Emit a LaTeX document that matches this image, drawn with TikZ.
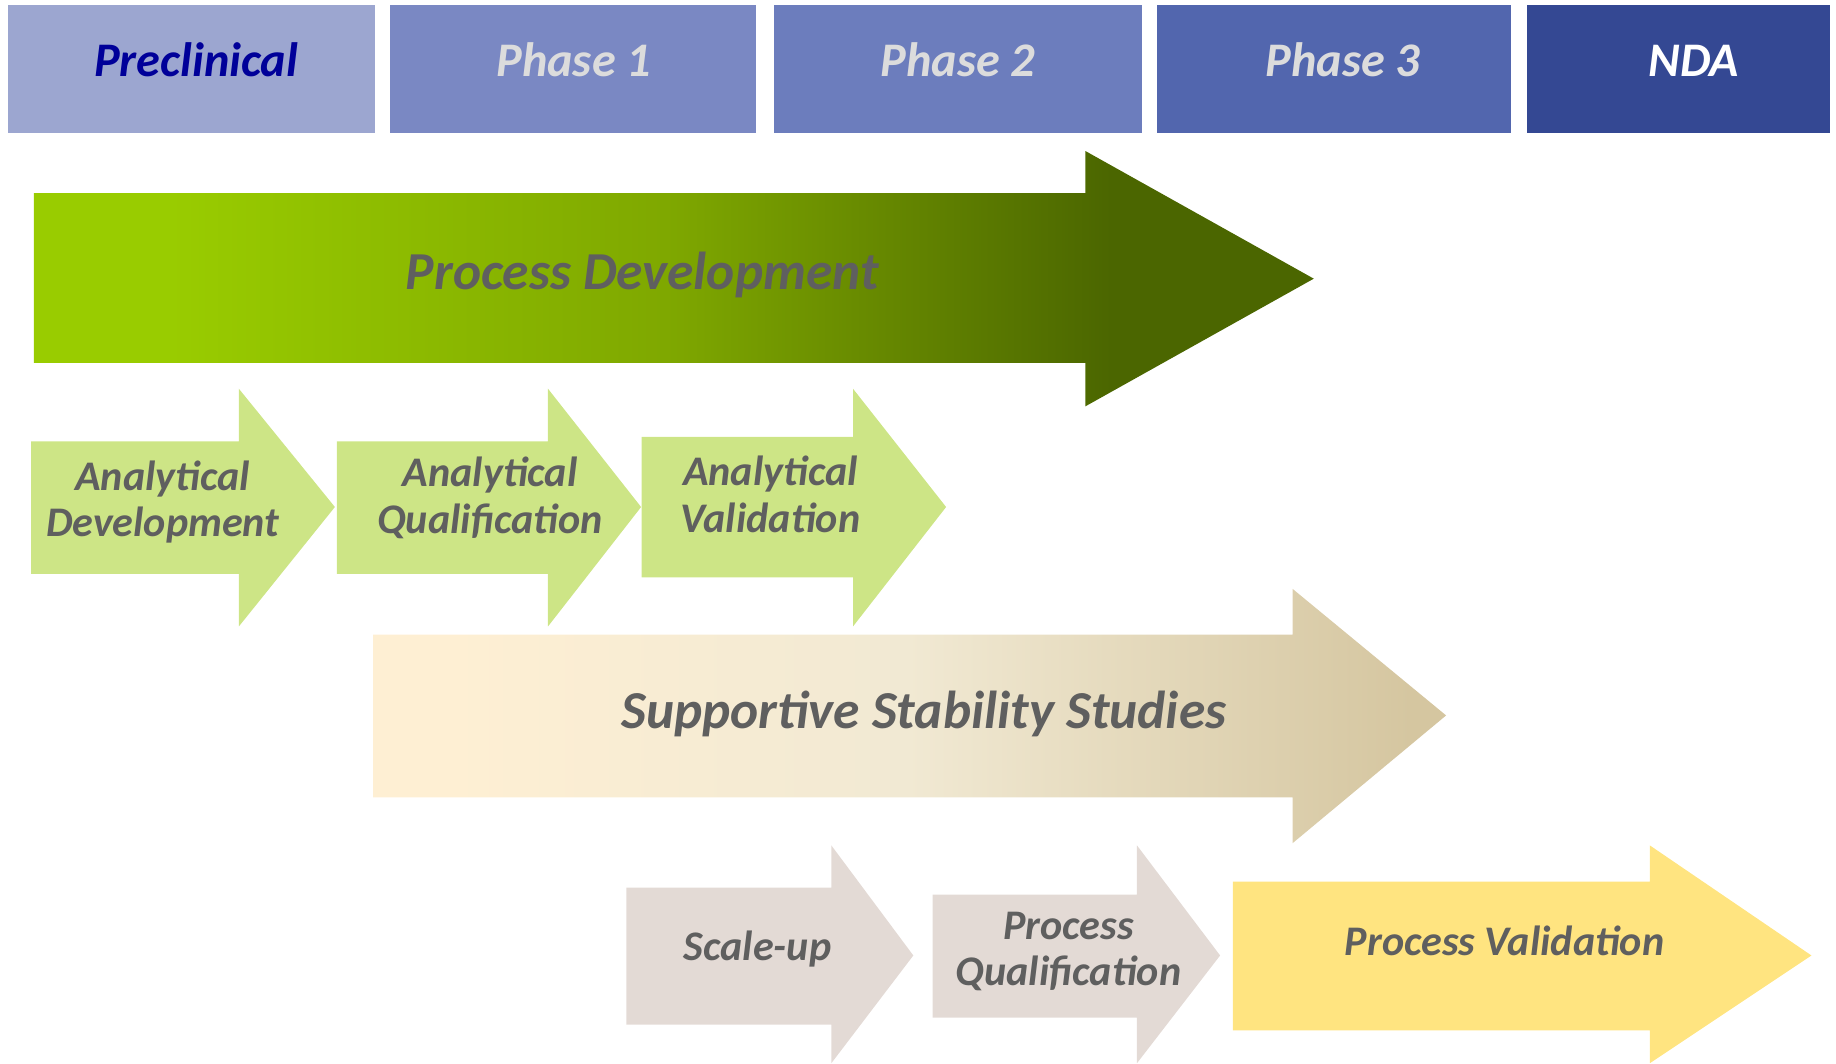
\documentclass[tikz,border=0pt]{standalone}
\usepackage{fontspec}
\setmainfont{Carlito}
\definecolor{pdA}{HTML}{99CC00}
\definecolor{pdB}{HTML}{7FA800}
\definecolor{pdC}{HTML}{4B6600}
\definecolor{ssA}{HTML}{FEEFD3}
\definecolor{ssB}{HTML}{F1E9D3}
\definecolor{ssC}{HTML}{D5C6A0}
\definecolor{hdA}{HTML}{9CA6D0}
\definecolor{hdB}{HTML}{7A88C3}
\definecolor{hdC}{HTML}{6C7DBD}
\definecolor{hdD}{HTML}{5266AE}
\definecolor{hdE}{HTML}{344893}
\definecolor{agreen}{HTML}{CDE586}
\definecolor{pgray}{HTML}{E3DAD5}
\definecolor{pyellow}{HTML}{FFE480}
\definecolor{txtgray}{HTML}{5F5F5F}
\definecolor{hdtxt}{HTML}{DCDCDC}
\definecolor{preblue}{HTML}{000099}
\pgfdeclarehorizontalshading{pdshade}{100bp}{color(0bp)=(pdA); color(30.3bp)=(pdA); color(49.7bp)=(pdB); color(67.1bp)=(pdC); color(100bp)=(pdC)}
\pgfdeclarehorizontalshading{ssshade}{100bp}{color(0bp)=(ssA); color(28.6bp)=(ssA); color(49.9bp)=(ssB); color(73.4bp)=(ssC); color(100bp)=(ssC)}
\tikzset{
  hdtext/.style={font=\fontsize{20.6}{24}\selectfont\bfseries\itshape, anchor=base},
  bigtext/.style={font=\fontsize{22.8}{27}\selectfont\bfseries\itshape, text=txtgray, anchor=base},
  smalltext/.style={font=\fontsize{18}{20}\selectfont\bfseries\itshape, text=txtgray, align=center, anchor=base},
}
\begin{document}
\begin{tikzpicture}[x=0.5pt,y=-0.5pt]
\useasboundingbox (0,0) rectangle (1568,908.6);
% header boxes
\fill[hdA] (7,4) rectangle (320,113.6);
\fill[hdB] (333,4) rectangle (646,113.6);
\fill[hdC] (661,4) rectangle (975,113.6);
\fill[hdD] (988,4) rectangle (1290,113.6);
\fill[hdE] (1304,4) rectangle (1563,113.6);
\node[hdtext, text=preblue] (pre) at (167.5,65.5) {Preclinical};
\node[hdtext, text=hdtxt] (ph1) at (490,65.5) {Phase 1};
\node[hdtext, text=hdtxt] (ph2) at (818,65.5) {Phase 2};
\node[hdtext, text=hdtxt] (ph3) at (1147,65.5) {Phase 3};
\node[hdtext, text=white] (nda) at (1446.5,65.5) {NDA};
% process development
\shade[shading=pdshade] (29,165) -- (927,165) -- (927,129) -- (1122,238) -- (927,347) -- (927,310) -- (29,310) -- cycle;
\node[bigtext] (pd) at (548.5,247) {Process Development};
% analytical arrows
\fill[agreen] (26.6,377) -- (204,377) -- (204,332) -- (286,433) -- (204,535) -- (204,490) -- (26.6,490) -- cycle;
\fill[agreen] (287.6,377) -- (468,377) -- (468,332) -- (547.5,433) -- (468,535) -- (468,490) -- (287.6,490) -- cycle;
\fill[agreen] (548,373) -- (728.5,373) -- (728.5,332) -- (808,433) -- (728.5,535) -- (728.5,493) -- (548,493) -- cycle;
\node[smalltext] (ad) at (139,458.6) {Analytical\\Development};
\node[smalltext] (aq) at (418.5,455.5) {Analytical\\Qualification};
\node[smalltext] (av) at (658,455) {Analytical\\Validation};
% supportive stability
\shade[shading=ssshade] (318.6,542) -- (1104,542) -- (1104,503) -- (1235,611) -- (1104,720) -- (1104,681) -- (318.6,681) -- cycle;
\node[bigtext] (ss) at (789,622) {Supportive Stability Studies};
% process arrows
\fill[pgray] (535,758) -- (710,758) -- (710,722) -- (780,816) -- (710,908) -- (710,875) -- (535,875) -- cycle;
\fill[pgray] (796.5,764) -- (971,764) -- (971,722) -- (1042,816) -- (971,908) -- (971,869) -- (796.5,869) -- cycle;
\fill[pyellow] (1053,753) -- (1409,753) -- (1409,722) -- (1547,816) -- (1409,908) -- (1409,880) -- (1053,880) -- cycle;
\node[smalltext] (su) at (647,820) {Scale-up};
\node[smalltext] (pq) at (912.5,842) {Process\\Qualification};
\node[smalltext] (pv) at (1285,815.7) {Process Validation};
\end{tikzpicture}
\end{document}
